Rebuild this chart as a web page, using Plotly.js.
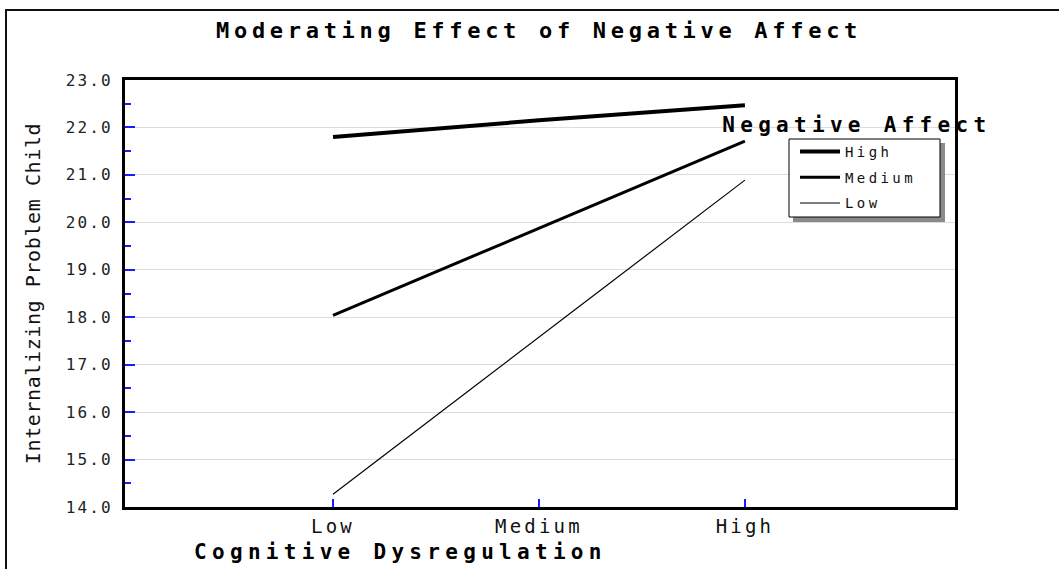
<!DOCTYPE html>
<html>
<head>
<meta charset="utf-8">
<script src="https://cdn.plot.ly/plotly-3.0.1.min.js"></script>
<style>
  html, body { margin: 0; padding: 0; background: #fff; }
  #chart { width: 1059px; height: 569px; }
  #chart .gtitle { letter-spacing: 4.7px; }
  #chart .annotation-text { letter-spacing: 5.3px; }
  #chart .xtick text { letter-spacing: 3.2px; }
  #chart .ytick text { letter-spacing: 2.1px; }
  #chart .ytitle { letter-spacing: 0.6px; }
  #chart .legendtext { letter-spacing: 3.4px; }
  #chart .legend .scrollbox { clip-path: none !important; }
</style>
</head>
<body>
<div id="chart"></div>
<script>
// Data
const categories = ["Low", "Medium", "High"];
const seriesNames = ["High", "Medium", "Low"];
const highValues = [21.80, 22.15, 22.47];
const mediumValues = [18.04, 19.88, 21.71];
const lowValues = [14.27, 17.58, 20.89];
const lineWidths = [4, 3, 1.2];

const seriesValues = [highValues, mediumValues, lowValues];

const traces = seriesNames.map((name, i) => ({
  type: "scatter",
  mode: "lines",
  name: name,
  legendgroup: "g" + i,
  x: categories,
  y: seriesValues[i],
  line: { color: "#000", width: lineWidths[i] },
  hoverinfo: "skip"
}));

const mono = "DejaVu Sans Mono, monospace";

// pixel helpers for paper coordinates (plot area 125..955 x 80..507)
const L = 125, R = 955, T = 80, B = 507;
const px = v => (v - L) / (R - L);
const py = v => (B - v) / (B - T);

const layout = {
  width: 1059,
  height: 569,
  margin: { l: L, r: 1059 - R, t: T, b: 569 - B, pad: 0 },
  paper_bgcolor: "#fff",
  plot_bgcolor: "#fff",
  showlegend: true,
  title: {
    text: "Moderating Effect of Negative Affect",
    font: { family: mono, size: 22, color: "#000", weight: "bold" },
    x: 0.509, xanchor: "center",
    y: 1 - 30 / 569, yanchor: "middle"
  },
  xaxis: {
    type: "category",
    categoryorder: "array",
    categoryarray: categories,
    range: [-1.01, 3.02],
    showgrid: false,
    zeroline: false,
    showline: true, linecolor: "#000", linewidth: 3, mirror: true,
    ticks: "inside", ticklen: 8, tickwidth: 2, tickcolor: "#1a1aff",
    ticklabelstandoff: 0,
    tickfont: { family: mono, size: 19, color: "#111" },
    fixedrange: true
  },
  yaxis: {
    range: [14, 23],
    dtick: 1,
    tick0: 14,
    tickformat: ".1f",
    showgrid: true, gridcolor: "#dcdcdc", gridwidth: 1,
    zeroline: false,
    showline: true, linecolor: "#000", linewidth: 3, mirror: true,
    ticks: "inside", ticklen: 10, tickwidth: 2, tickcolor: "#1a1aff",
    minor: { dtick: 0.5, ticks: "inside", ticklen: 6, tickwidth: 2, tickcolor: "#1a1aff", showgrid: false },
    ticklabelstandoff: 6,
    tickfont: { family: mono, size: 16, color: "#222" },
    title: {
      text: "Internalizing Problem Child",
      font: { family: mono, size: 20, color: "#111" },
      standoff: 29
    },
    fixedrange: true
  },
  legend: {
    x: px(795), y: py(136),
    xanchor: "left", yanchor: "top",
    bgcolor: "rgba(0,0,0,0)",
    borderwidth: 0,
    font: { family: mono, size: 14, color: "#111" },
    traceorder: "grouped",
    itemwidth: 40,
    tracegroupgap: 4.5
  },
  annotations: [
    {
      text: "Negative Affect",
      xref: "paper", yref: "paper",
      x: px(857), y: py(125),
      xanchor: "center", yanchor: "middle",
      showarrow: false,
      font: { family: mono, size: 21, color: "#000", weight: "bold" }
    },
    {
      text: "Cognitive Dysregulation",
      xref: "paper", yref: "paper",
      x: px(400), y: py(552),
      xanchor: "center", yanchor: "middle",
      showarrow: false,
      font: { family: mono, size: 21, color: "#000", weight: "bold" }
    }
  ],
  shapes: [
    {
      type: "rect", xref: "paper", yref: "paper", layer: "below",
      x0: px(6), x1: px(1100), y0: py(620), y1: py(10),
      line: { color: "#111", width: 2 }, fillcolor: "rgba(0,0,0,0)"
    },
    {
      type: "rect", xref: "paper", yref: "paper", layer: "above",
      x0: px(793), x1: px(945), y0: py(222), y1: py(143),
      line: { width: 0 }, fillcolor: "#8a8a8a"
    },
    {
      type: "rect", xref: "paper", yref: "paper", layer: "above",
      x0: px(789), x1: px(940), y0: py(217), y1: py(139),
      line: { color: "#000", width: 1 }, fillcolor: "#fff"
    }
  ]
};

Plotly.newPlot("chart", traces, layout, { displayModeBar: false, staticPlot: true });
</script>
</body>
</html>
